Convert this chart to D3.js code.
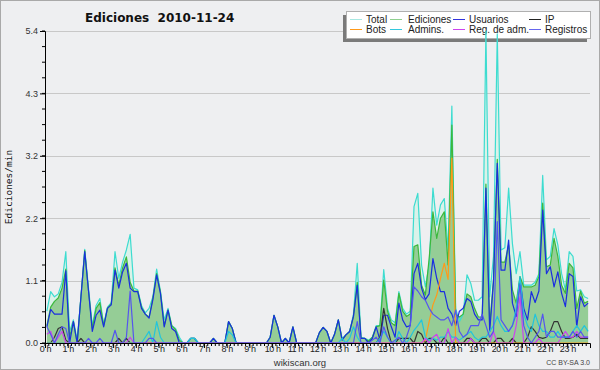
<!DOCTYPE html>
<html lang="es">
<head>
<meta charset="utf-8">
<title>Ediciones 2010-11-24</title>
<script src="https://cdn.jsdelivr.net/npm/d3@7"></script>
<style>
  body { margin: 0; background: #fff; }
  text { font-family: "Liberation Sans", Arial, sans-serif; }
</style>
</head>
<body>
<script>

// one value every 10 minutes, 144 values per series
var hourLabels = d3.range(24).map(function(h){ return h + " h"; });

var total = [
  0.55,0.89,0.8,0.85,1.05,1.58, 0.2,0.4,0.05,0.8,1.62,0.95, 0.3,0.65,0.77,0.32,0.62,0.7,
  1.58,1.12,1.4,1.61,1.88,0.95, 0.92,0.65,0.52,0.6,0.8,1.28, 0.9,0.4,0.6,0.3,0.25,0.1,
  0,0,0.08,0.08,0,0, 0,0,0.08,0,0,0, 0.37,0.25,0,0,0,0,
  0,0,0,0,0,0.1, 0.48,0.28,0,0.08,0,0.28, 0,0,0,0,0,0,
  0.18,0.27,0.2,0,0.15,0.4, 0.08,0.14,0.2,0.5,1.38,0.1, 0.08,0.05,0.1,0.3,0.3,1.27,
  0.6,0.4,0.35,0.89,0.6,0.5, 0.55,2.36,2.59,1.35,0.97,1.35, 2.68,2.04,2.39,2.5,1.6,4.1,
  0.6,0.37,0.5,1.18,1.03,0.74, 0.74,0.8,5.4,0.8,1.5,5.35, 1.61,1.65,2.68,1.72,1.2,1.58,
  1.0,1.0,1.0,1.05,1.2,2.9, 1.44,1.5,1.98,1.7,1.2,0.92, 1.58,1.5,0.9,0.92,0.8,0.77
];

var ediciones = [
  0.3,0.62,0.72,0.78,0.95,1.28, 0.1,0.37,0,0.8,1.6,0.9, 0.25,0.6,0.7,0.3,0.6,0.68,
  1.3,1.0,1.3,1.49,1.05,0.9, 0.9,0.62,0.5,0.45,0.78,1.2, 0.88,0.3,0.57,0.3,0.23,0.05,
  0,0,0.08,0.08,0,0, 0,0,0.08,0,0,0, 0.37,0.25,0,0,0,0,
  0,0,0,0,0,0.1, 0.48,0.28,0,0.08,0,0.28, 0,0,0,0,0,0,
  0.18,0.27,0.2,0,0.15,0.4, 0.06,0.14,0.2,0.46,1.05,0.08, 0.08,0.03,0.1,0.28,0.3,1.09,
  0.55,0.35,0.3,0.86,0.55,0.46, 0.5,1.67,1.7,1.0,0.83,1.46, 2.27,1.81,2.16,2.27,1.35,3.77,
  0.5,0.45,0.5,0.85,0.8,0.6, 0.45,0.45,2.75,0.3,1.1,3.18, 1.4,1.4,1.7,0.92,0.69,1.15,
  0.97,0.97,0.97,1.0,1.15,2.42, 1.32,1.35,1.81,1.5,1.0,0.86, 1.38,1.3,0.6,0.9,0.69,0.72
];

var usuarios = [
  0.28,0.58,0.5,0.5,0.5,1.25, 0,0.37,0,0.8,1.58,0.9, 0.2,0.48,0.57,0.28,0.6,0.66,
  1.26,0.95,1.23,1.38,0.95,0.89, 0.89,0.6,0.5,0.43,0.75,1.18, 0.86,0.28,0.57,0.25,0.2,0,
  0,0,0.08,0.08,0,0, 0,0,0.08,0,0,0, 0.37,0.25,0,0,0,0,
  0,0,0,0,0,0.1, 0.48,0.28,0,0.08,0,0.28, 0,0,0,0,0,0,
  0.18,0.27,0.2,0,0.15,0.4, 0.05,0.14,0.2,0.46,1.0,0.08, 0.08,0,0.08,0.28,0.05,0.48,
  0.48,0.28,0.1,0.69,0.4,0.28, 0.3,1.2,1.38,0.95,0.75,0.85, 1.46,1.12,0.89,0.89,0.6,0.5,
  0.3,0.55,0.6,0.77,0.72,0.5, 0.4,0.4,2.68,0.2,1.06,3.11, 1.26,1.26,1.78,0.69,0.46,1.12,
  0.6,0.4,0.89,0.7,0.9,2.3, 1.2,1.32,0.97,1.23,0.86,0.63, 1.2,1.15,0.28,0.8,0.63,0.69
];

var ip = [
  0,0,0.1,0.25,0.28,0.05, 0,0,0,0.08,0,0, 0,0,0,0,0,0,
  0,0.08,0,0.08,0,0, 0,0,0,0,0,0, 0,0,0,0,0,0,
  0,0,0,0,0,0, 0,0,0,0,0,0, 0,0,0,0,0,0,
  0,0,0,0,0,0, 0,0,0,0,0,0, 0,0,0,0,0,0,
  0,0,0,0,0,0, 0,0,0,0,0,0, 0,0,0,0,0.1,0.6,
  0.25,0,0,0.08,0.08,0.08, 0.08,0,0.2,0.15,0,0.08, 0.08,0,0,0.1,0,0,
  0,0,0,0.08,0.08,0, 0,0.08,0.08,0,0,0.08, 0.08,0,0,0.08,0,0,
  0,0.1,0.28,0.2,0.1,0.08, 0.1,0.2,0.37,0.37,0.2,0.08, 0.08,0.1,0.15,0.08,0.08,0.08
];

var bots = [
  0,0,0,0,0,0, 0,0,0,0,0,0, 0,0,0,0,0,0,
  0,0,0,0,0,0, 0,0,0,0,0,0, 0,0,0,0,0,0,
  0,0,0,0,0,0, 0,0,0,0,0,0, 0,0,0,0,0,0,
  0,0,0,0,0,0, 0,0,0,0,0,0, 0,0,0,0,0,0,
  0,0,0,0,0,0, 0,0,0,0,0,0, 0,0,0,0,0,0,
  0,0,0,0,0,0, 0,0,0,0,0.05,0.37, 0.66,0.83,1.12,1.38,1.1,3.2,
  0,0,0,0,0,0, 0,0,0,0,0,0, 0,0,0,0,0,0,
  0,0,0,0,0,0, 0,0,0,0,0,0, 0,0,0,0,0,0
];

var admins = [
  0,0,0,0,0,0, 0,0,0,0,0,0, 0,0,0,0,0,0,
  0,0,0,0,0,0, 0,0,0.1,0.2,0,0.37, 0.1,0,0,0,0,0,
  0,0,0.08,0.08,0,0, 0,0,0,0,0,0, 0.2,0.14,0,0,0,0,
  0,0,0,0,0,0, 0,0,0,0,0,0, 0,0,0,0,0,0,
  0,0,0,0,0,0, 0.08,0,0.08,0.28,0.1,0, 0,0,0,0,0.08,0.2,
  0.1,0,0,0.2,0.08,0, 0.1,0.22,0.3,0.4,0.1,0.05, 0.08,0.05,0.1,0.1,0.2,0.1,
  0.1,0.05,0.1,0.15,0.2,0.1, 0.05,0.1,0.1,0.2,0.3,0.46, 0.3,0.2,0.2,0.3,0.6,1.15,
  0.5,0.3,0.2,0.5,0.3,0.2, 0.2,0.1,0.1,0.2,0.1,0.1, 0.1,0.2,0.3,0.2,0.3,0.2
];

var regAdm = [
  0.15,0.2,0,0.1,0.2,0, 0,0,0,0,0,0, 0,0,0,0,0,0,
  0,0,0,0,0.1,0, 0,0,0,0,0,0, 0,0,0,0,0,0,
  0,0,0,0,0,0, 0,0,0,0,0,0, 0,0,0,0,0,0,
  0,0,0,0,0,0, 0,0,0,0,0,0, 0,0,0,0,0,0,
  0,0,0,0,0,0, 0,0,0,0,0,0, 0,0,0,0,0,0,
  0,0,0,0,0,0, 0,0,0,0,0.08,0, 0.1,0.15,0,0,0.25,0,
  0.1,0,0,0,0.08,0, 0,0,0,0,0.2,0, 0,0,0,0,0.3,0.8,
  0,0,0,0,0.08,0, 0,0,0,0,0.1,0.2, 0.1,0.1,0.2,0.1,0.1,0.1
];

var registros = [
  0.28,0.15,0,0.15,0.28,0.25, 0,0,0,0,0,0.08, 0,0,0.08,0,0,0,
  0.22,0,0,0.1,0.9,0, 0,0,0,0.08,0.08,0, 0,0,0,0,0,0,
  0,0,0,0,0,0, 0,0,0,0,0,0, 0,0,0,0,0,0,
  0,0,0,0,0,0, 0,0,0,0,0,0, 0,0,0,0,0,0,
  0,0,0,0,0,0, 0,0,0,0,0.37,0, 0,0,0.05,0.1,0,0.28,
  0.1,0,0.05,0.1,0,0.1, 0.3,0.97,0.9,0.8,0.74,0.6, 0.5,0.45,0.4,0.4,0.45,0.3,
  0.57,0.2,0.1,0.15,0.3,0.3, 0.3,0.5,0.3,0.1,0.2,2.1, 0.4,0.3,0.2,0.3,0.5,1.0,
  0.3,0.1,0,0.1,0.2,0.5, 0.1,0.2,0.2,0.1,0.1,0.1, 0.1,0.2,0.1,0.2,0.1,0.1
];

var legendNames = ["Total", "Ediciones", "Usuarios", "IP", "Bots", "Admins.", "Reg. de adm.", "Registros"];
var legendColors = ["#a8e8e2", "#8fd08f", "#3333dd", "#222222", "#ff9a1a", "#33c8dd", "#cc44ee", "#6666ee"];

var width = 600, height = 370;
var margin = {top: 31, right: 10, bottom: 27, left: 45};

var svg = d3.select("body")
  .append("svg")
  .attr("width", width)
  .attr("height", height);

svg.append("rect")
  .attr("x", 0.5).attr("y", 0.5)
  .attr("width", width - 1).attr("height", height - 1)
  .attr("fill", "#eeeff1")
  .attr("stroke", "#a9a9a9");

var xscale = d3.scaleLinear()
  .domain([0, 24])
  .range([margin.left, width - margin.right]);

var yscale = d3.scaleLinear()
  .domain([0, d3.max(total)])
  .range([height - margin.bottom, margin.top]);

var yMax = d3.max(total);
var yTicks = d3.range(6).map(function(k){ return yMax * k / 5; });
var yMinor = d3.range(21).map(function(k){ return yMax * k / 20; });

// grid
svg.append("g")
  .selectAll("line")
  .data(yTicks.slice(1))
  .enter()
  .append("line")
  .attr("x1", margin.left).attr("x2", width - margin.right)
  .attr("y1", function(d){ return Math.round(yscale(d)) + 0.5; })
  .attr("y2", function(d){ return Math.round(yscale(d)) + 0.5; })
  .attr("stroke", "#c8c8c8");

// title
svg.append("text")
  .attr("x", 85).attr("y", 22)
  .style("font-family", "'DejaVu Sans', sans-serif")
  .style("font-weight", "bold")
  .style("font-size", "12px")
  .attr("fill", "#111")
  .attr("xml:space", "preserve")
  .text("Ediciones  2010-11-24");

// legend (drawn under the curves, like the original)
var lg = svg.append("g");
lg.append("rect").attr("x", 343).attr("y", 15).attr("width", 244).attr("height", 27).attr("fill", "#7a7a7a");
lg.append("rect").attr("x", 346.5).attr("y", 11.5).attr("width", 244).attr("height", 27).attr("fill", "#fff").attr("stroke", "#b0b0b0");
var colX = [350, 390, 453, 529];
var entries = lg.selectAll("g.entry")
  .data(legendNames)
  .enter()
  .append("g")
  .attr("transform", function(d, i){ return "translate(" + colX[i % 4] + "," + (19.5 + Math.floor(i / 4) * 10) + ")"; });
entries.append("line")
  .attr("x1", 0).attr("x2", 12)
  .attr("stroke", function(d, i){ return legendColors[i]; });
entries.append("text")
  .attr("x", function(d, i){ return i % 4 == 1 ? 18 : 16; })
  .attr("dy", "0.35em")
  .style("font-size", "10px")
  .attr("fill", "#222")
  .text(function(d){ return d; });

// curves
var xOf = function(d, i){ return xscale((i + 0.5) / 6); };

var area = d3.area().x(xOf).y0(yscale(0)).y1(function(d){ return yscale(d); });
var line = d3.line().x(xOf).y(function(d){ return yscale(d); });

svg.append("path").datum(total).attr("d", area).attr("fill", "#d6f2e8").attr("fill-opacity", 0.85);
svg.append("path").datum(ediciones).attr("d", area).attr("fill", "#95cd96");

var series = [
  [total, "#3ddcd0"],
  [ediciones, "#3cb83c"],
  [usuarios, "#1a2ee0"],
  [ip, "#333333"],
  [bots, "#ff9a1a"],
  [admins, "#22c4dc"],
  [regAdm, "#cc44ee"],
  [registros, "#5555ee"]
];

series.forEach(function(s){
  svg.append("path")
    .datum(s[0])
    .attr("d", line)
    .attr("fill", "none")
    .attr("stroke", s[1])
    .attr("stroke-width", 1.2)
    .attr("stroke-linejoin", "round");
});

// y axis
var yAxis = d3.axisLeft(yscale)
  .tickValues(yTicks)
  .tickFormat(d3.format(".1f"))
  .tickSize(5)
  .tickPadding(2);

var yg = svg.append("g")
  .attr("transform", "translate(" + margin.left + ",0)")
  .call(yAxis);
yg.select(".domain").attr("stroke", "#000");
yg.selectAll("text").style("font-size", "9px").attr("fill", "#333");

svg.append("g")
  .selectAll("line")
  .data(yMinor)
  .enter()
  .append("line")
  .attr("x1", margin.left - 3).attr("x2", margin.left)
  .attr("y1", function(d){ return yscale(d); })
  .attr("y2", function(d){ return yscale(d); })
  .attr("stroke", "#000");

// x axis
var xAxis = d3.axisBottom(xscale)
  .tickValues(d3.range(24))
  .tickFormat(function(d){ return hourLabels[d]; })
  .tickSize(5)
  .tickPadding(-2);

var xg = svg.append("g")
  .attr("transform", "translate(0," + (height - margin.bottom) + ")")
  .call(xAxis);
xg.select(".domain").attr("stroke", "#000");
xg.selectAll("text").style("font-size", "9px").style("letter-spacing", "-0.4px").attr("fill", "#222");

svg.append("g")
  .selectAll("line")
  .data(d3.range(0, 24, 1 / 6))
  .enter()
  .append("line")
  .attr("x1", function(d){ return xscale(d); })
  .attr("x2", function(d){ return xscale(d); })
  .attr("y1", height - margin.bottom)
  .attr("y2", height - margin.bottom + 3)
  .attr("stroke", "#000");

// labels
svg.append("text")
  .attr("transform", "translate(12,187) rotate(-90)")
  .attr("text-anchor", "middle")
  .style("font-family", "'DejaVu Sans Mono', monospace")
  .style("font-size", "9.5px")
  .attr("fill", "#111")
  .text("Ediciones/min");

svg.append("text")
  .attr("x", 300).attr("y", 366)
  .attr("text-anchor", "middle")
  .style("font-size", "9.5px")
  .attr("fill", "#333")
  .text("wikiscan.org");

svg.append("text")
  .attr("x", 590).attr("y", 365)
  .attr("text-anchor", "end")
  .style("font-size", "7px")
  .attr("fill", "#444")
  .text("CC BY-SA 3.0");

</script>
</body>
</html>
